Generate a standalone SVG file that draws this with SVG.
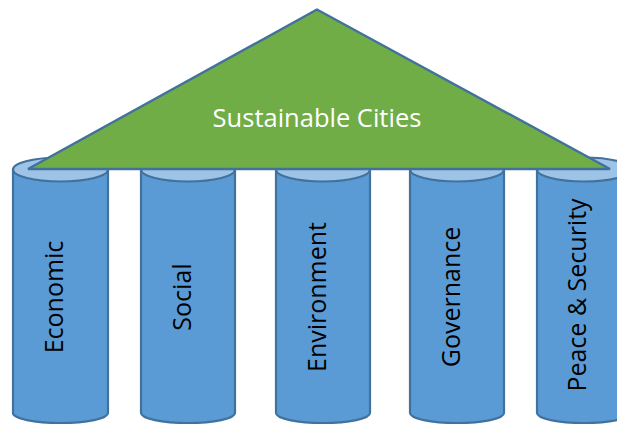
<svg xmlns="http://www.w3.org/2000/svg" width="617" height="426" viewBox="0 0 617 426">
  <style>
    .body { fill: #5B9BD5; stroke: #41719C; stroke-width: 2.2; }
    .cap { fill: #9DC3E6; stroke: #41719C; stroke-width: 2.2; }
    .roof { fill: #70AD47; stroke: #41719C; stroke-width: 2.4; stroke-linejoin: miter; }
    .label { font-family: "Open Sans", "Noto Sans", sans-serif; font-size: 25px; fill: #000000; text-anchor: middle; }
    .title { font-family: "Open Sans", "Noto Sans", sans-serif; font-size: 25.5px; fill: #FFFFFF; text-anchor: middle; }
  </style>
  <rect width="617" height="426" fill="#FFFFFF"/>

  <!-- Pillars: cylinder body path (sides + bottom arc) plus a lighter top ellipse -->
  <g id="pillar-economic">
    <path class="body" d="M13,169.5 V413 A47.5,10 0 0 0 108,413 V169.5 Z"/>
    <ellipse class="cap" cx="60.5" cy="169.5" rx="47.5" ry="12"/>
    <text class="label" transform="translate(63,297) rotate(-90)">Economic</text>
  </g>
  <g id="pillar-social">
    <path class="body" d="M141,169.5 V413 A47,10 0 0 0 235,413 V169.5 Z"/>
    <ellipse class="cap" cx="188" cy="169.5" rx="47" ry="12"/>
    <text class="label" transform="translate(191,297) rotate(-90)">Social</text>
  </g>
  <g id="pillar-environment">
    <path class="body" d="M276,169.5 V413 A47,10 0 0 0 370,413 V169.5 Z"/>
    <ellipse class="cap" cx="323" cy="169.5" rx="47" ry="12"/>
    <text class="label" transform="translate(326,297) rotate(-90)">Environment</text>
  </g>
  <g id="pillar-governance">
    <path class="body" d="M410,169.5 V413 A47,10 0 0 0 504,413 V169.5 Z"/>
    <ellipse class="cap" cx="457" cy="169.5" rx="47" ry="12"/>
    <text class="label" transform="translate(460,297) rotate(-90)">Governance</text>
  </g>
  <g id="pillar-peace-security">
    <path class="body" d="M537,169.5 V413 A47,10 0 0 0 631,413 V169.5 Z"/>
    <ellipse class="cap" cx="584" cy="169.5" rx="47" ry="12"/>
    <text class="label" transform="translate(586,295) rotate(-90)">Peace &amp; Security</text>
  </g>

  <!-- Roof resting on the pillars -->
  <g id="roof">
    <polygon class="roof" points="317,9.5 28,169 610,169"/>
    <text class="title" x="317" y="127">Sustainable Cities</text>
  </g>

  <g id="connectors"/>
</svg>
